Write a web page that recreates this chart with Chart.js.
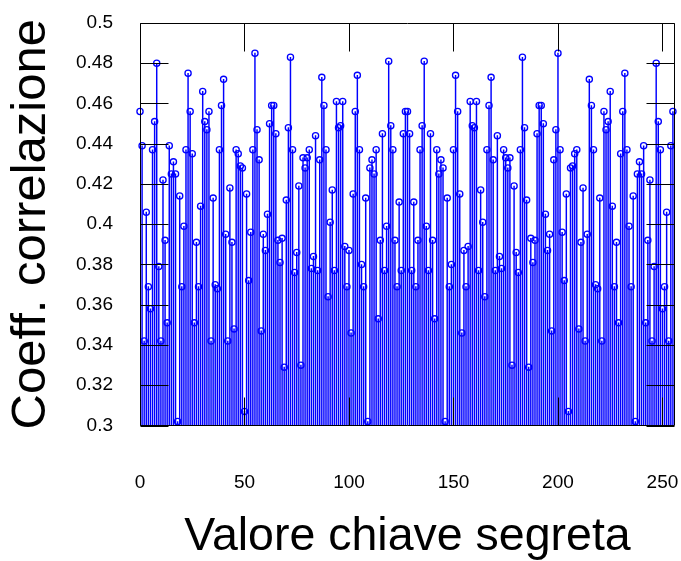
<!DOCTYPE html>
<html>
<head>
<meta charset="utf-8">
<script src="https://cdn.jsdelivr.net/npm/chart.js@4/dist/chart.umd.min.js"></script>
<style>
  html, body { margin: 0; padding: 0; background: #fff; }
  canvas { display: block; }
</style>
</head>
<body>
<canvas id="stem_chart" width="681" height="561"></canvas>
<script>
// key values 0..255 (categories)
var keyValues = [];
for (var k = 0; k < 256; k++) keyValues.push(k);

// correlation coefficient per key value
var correlation = [
  0.456, 0.439, 0.342, 0.406, 0.369, 0.358, 0.437, 0.451, 0.480, 0.379,
  0.342, 0.422, 0.392, 0.351, 0.439, 0.425, 0.431, 0.425, 0.302, 0.414,
  0.369, 0.399, 0.437, 0.475, 0.456, 0.435, 0.351, 0.391, 0.369, 0.409,
  0.466, 0.451, 0.447, 0.456, 0.342, 0.413, 0.370, 0.368, 0.437, 0.459,
  0.472, 0.395, 0.342, 0.418, 0.391, 0.348, 0.437, 0.435, 0.429, 0.428,
  0.307, 0.415, 0.372, 0.396, 0.437, 0.485, 0.447, 0.432, 0.347, 0.395,
  0.387, 0.405, 0.450, 0.459, 0.459, 0.445, 0.392, 0.381, 0.393, 0.329,
  0.412, 0.448, 0.483, 0.437, 0.376, 0.386, 0.419, 0.330, 0.433, 0.428,
  0.433, 0.437, 0.378, 0.384, 0.444, 0.377, 0.432, 0.473, 0.459, 0.437,
  0.364, 0.401, 0.417, 0.377, 0.461, 0.448, 0.449, 0.461, 0.389, 0.369,
  0.387, 0.346, 0.415, 0.456, 0.474, 0.437, 0.380, 0.369, 0.413, 0.302,
  0.428, 0.432, 0.425, 0.437, 0.353, 0.392, 0.445, 0.377, 0.399, 0.481,
  0.449, 0.437, 0.392, 0.369, 0.411, 0.377, 0.445, 0.456,
  0.456, 0.445, 0.377, 0.411, 0.369, 0.392, 0.437, 0.449,
  0.481, 0.399, 0.377, 0.445, 0.392, 0.353, 0.437, 0.425, 0.432, 0.428,
  0.302, 0.413, 0.369, 0.380, 0.437, 0.474, 0.456, 0.415, 0.346, 0.387,
  0.369, 0.389, 0.461, 0.449, 0.448, 0.461, 0.377, 0.417, 0.401, 0.364,
  0.437, 0.459, 0.473, 0.432, 0.377, 0.444, 0.384, 0.378, 0.437, 0.433,
  0.428, 0.433, 0.330, 0.419, 0.386, 0.376, 0.437, 0.483, 0.448, 0.412,
  0.329, 0.393, 0.381, 0.392, 0.445, 0.459, 0.459, 0.450, 0.405, 0.387,
  0.395, 0.347, 0.432, 0.447, 0.485, 0.437, 0.396, 0.372, 0.415, 0.307,
  0.428, 0.429, 0.435, 0.437, 0.348, 0.391, 0.418, 0.342, 0.395, 0.472,
  0.459, 0.437, 0.370, 0.368, 0.413, 0.342, 0.456, 0.447, 0.451, 0.466,
  0.409, 0.369, 0.391, 0.351, 0.435, 0.456, 0.475, 0.437, 0.399, 0.369,
  0.414, 0.302, 0.425, 0.431, 0.425, 0.439, 0.351, 0.392, 0.422, 0.342,
  0.379, 0.480, 0.451, 0.437, 0.358, 0.369, 0.406, 0.342, 0.439, 0.456
];

var xTickValues = [0, 50, 100, 150, 200, 250];
var yTickValues = [0.3, 0.32, 0.34, 0.36, 0.38, 0.4, 0.42, 0.44, 0.46, 0.48, 0.5];

var stems = keyValues.map(function(key, i) {
  return { x: key, y: correlation[i] };
});

// box around the plot with inward tick marks on all four sides
var frameTicks = {
  id: 'frameTicks',
  afterDatasetsDraw: function(chart) {
    var ctx = chart.ctx;
    var a = chart.chartArea;
    var xs = chart.scales.x, ys = chart.scales.y;
    var len = 28;
    var l = Math.round(a.left) + 0.5, r = Math.round(a.right) - 0.5;
    var t = Math.round(a.top) + 0.5, b = Math.round(a.bottom) - 0.5;
    ctx.save();
    ctx.strokeStyle = '#000';
    ctx.lineWidth = 1;
    ctx.beginPath();
    yTickValues.forEach(function(v) {
      var y = Math.round(ys.getPixelForValue(v)) + 0.5;
      ctx.moveTo(l, y); ctx.lineTo(l + len, y);
      ctx.moveTo(r, y); ctx.lineTo(r - len, y);
    });
    xTickValues.forEach(function(v) {
      var x = Math.round(xs.getPixelForValue(v)) + 0.5;
      ctx.moveTo(x, t); ctx.lineTo(x, t + len);
      ctx.moveTo(x, b); ctx.lineTo(x, b - len);
    });
    ctx.rect(l, t, r - l, b - t);
    ctx.stroke();
    ctx.restore();
  }
};

var sc = document.getElementById('stem_chart');
var stemChart = new Chart(sc, {
  type: 'bar',
  data: {
    datasets: [{
      type: 'scatter',
      data: stems,
      showLine: false,
      pointRadius: 3.1,
      pointBorderWidth: 1.3,
      pointBorderColor: '#0000ff',
      pointBackgroundColor: 'rgba(0,0,0,0)',
      clip: false,
      order: 1
    }, {
      type: 'bar',
      data: stems,
      backgroundColor: '#0000ff',
      borderWidth: 0,
      barThickness: 0.8,
      grouped: false,
      order: 2
    }]
  },
  options: {
    responsive: false,
    devicePixelRatio: 1,
    animation: false,
    layout: { autoPadding: false, padding: { top: 23, right: 6, left: 0, bottom: 0 } },
    plugins: {
      legend: { display: false },
      tooltip: { enabled: false }
    },
    scales: {
      x: {
        type: 'linear',
        min: 0,
        max: 256,
        offset: false,
        grid: { display: false, drawTicks: false },
        border: { display: false },
        afterBuildTicks: function(scale) {
          scale.ticks = xTickValues.map(function(v) { return { value: v }; });
        },
        afterFit: function(scale) {
          scale.height = 135.5;
          scale.paddingLeft = 0;
          scale.paddingRight = 0;
        },
        ticks: {
          padding: 46,
          color: '#000',
          maxRotation: 0,
          font: { family: 'Liberation Sans, Arial, sans-serif', size: 19 },
          callback: function(v) { return String(v); }
        },
        title: {
          display: true,
          text: 'Valore chiave segreta',
          color: '#000',
          padding: { top: 0, bottom: 1 },
          font: { family: 'Liberation Sans, Arial, sans-serif', size: 46.5, lineHeight: 1 }
        }
      },
      y: {
        min: 0.3,
        max: 0.5,
        grid: { display: false, drawTicks: false },
        border: { display: false },
        afterBuildTicks: function(scale) {
          scale.ticks = yTickValues.map(function(v) { return { value: v }; });
        },
        afterFit: function(scale) {
          scale.width = 140;
          scale.paddingTop = 0;
          scale.paddingBottom = 0;
        },
        ticks: {
          padding: 27,
          color: '#000',
          font: { family: 'Liberation Sans, Arial, sans-serif', size: 19 },
          callback: function(v) { return String(+v.toFixed(2)); }
        },
        title: {
          display: true,
          text: 'Coeff. correlazione',
          color: '#000',
          padding: { top: 7, bottom: 0 },
          font: { family: 'Liberation Sans, Arial, sans-serif', size: 49, lineHeight: 1 }
        }
      }
    }
  },
  plugins: [frameTicks]
});
</script>
</body>
</html>
